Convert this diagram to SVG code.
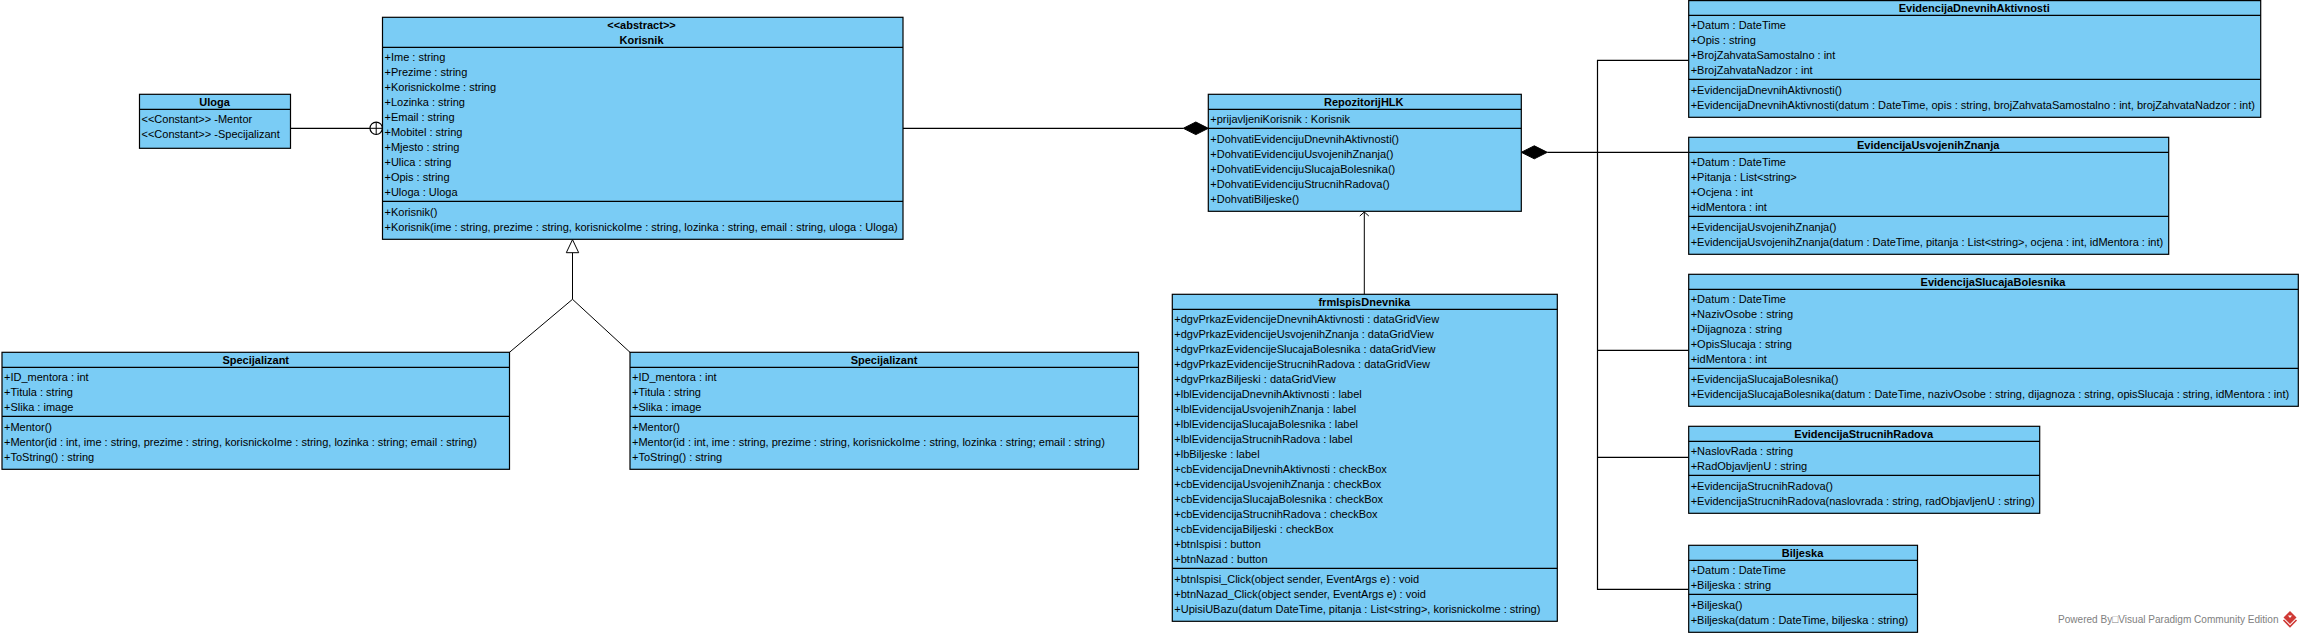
<svg xmlns="http://www.w3.org/2000/svg" width="2302" height="636" viewBox="0 0 2302 636">
<style>
.box{fill:#7accf5;stroke:#000;stroke-width:1.2}
.div{stroke:#000;stroke-width:1.2;fill:none}
.con{stroke:#000;stroke-width:1.2;fill:none}
.thin{stroke:#000;stroke-width:1;fill:none}
text{font-family:"Liberation Sans",Arial,sans-serif;font-size:11px;fill:#000}
.t{font-weight:bold;text-anchor:middle}
.wm{fill:#808080}
</style>
<rect width="2302" height="636" fill="#fff"/>
<g id="connectors">
<path class="con" d="M290.5 128.3H370"/>
<circle class="con" cx="376.2" cy="128.3" r="6.2"/>
<path class="thin" d="M370 128.3H382.5M376.2 122.1V134.5"/>
<path class="con" d="M903 128.3H1183.3"/>
<path d="M1183.3 128.3L1195.8 122L1208.3 128.3L1195.8 134.6Z" fill="#000" stroke="#000"/>
<path class="con" d="M1547.3 152.3H1688.5"/>
<path d="M1521.3 152.3L1534.3 145.8L1547.3 152.3L1534.3 158.8Z" fill="#000" stroke="#000"/>
<path class="con" d="M1688.5 60.3H1597.5V589.3H1688.5M1597.5 350.3H1688.5M1597.5 457.3H1688.5"/>
<path class="thin" d="M1364.3 294.3V212M1359.8 216L1364.3 212L1368.8 216"/>
<path class="thin" d="M572.5 252.7V299.3M509.5 352.3L572.5 299.3L630 352.3"/>
<path d="M572.5 239.6L566.3 252.7H578.7Z" fill="#fff" stroke="#000" stroke-width="1"/>
</g>
<g id="uloga">
<rect class="box" x="139.5" y="94.3" width="151" height="54"/>
<path class="div" d="M139.5 109.3H290.5"/>
<text class="t" x="214.5" y="106">Uloga</text>
<text x="141.5" y="123.3">&lt;&lt;Constant&gt;&gt; -Mentor</text>
<text x="141.5" y="138.3">&lt;&lt;Constant&gt;&gt; -Specijalizant</text>
</g>
<g id="korisnik">
<rect class="box" x="382.5" y="17.3" width="520.5" height="222"/>
<path class="div" d="M382.5 47.3H903M382.5 201.3H903"/>
<text class="t" x="641.5" y="29">&lt;&lt;abstract&gt;&gt;</text>
<text class="t" x="641.5" y="44">Korisnik</text>
<text x="384.5" y="61.3">+Ime : string</text>
<text x="384.5" y="76.3">+Prezime : string</text>
<text x="384.5" y="91.3">+KorisnickoIme : string</text>
<text x="384.5" y="106.3">+Lozinka : string</text>
<text x="384.5" y="121.3">+Email : string</text>
<text x="384.5" y="136.3">+Mobitel : string</text>
<text x="384.5" y="151.3">+Mjesto : string</text>
<text x="384.5" y="166.3">+Ulica : string</text>
<text x="384.5" y="181.3">+Opis : string</text>
<text x="384.5" y="196.3">+Uloga : Uloga</text>
<text x="384.5" y="215.7">+Korisnik()</text>
<text x="384.5" y="230.7">+Korisnik(ime : string, prezime : string, korisnickoIme : string, lozinka : string, email : string, uloga : Uloga)</text>
</g>
<g id="specijalizant1">
<rect class="box" x="2" y="352.3" width="507.5" height="117"/>
<path class="div" d="M2 367.3H509.5M2 416.3H509.5"/>
<text class="t" x="255.7" y="364">Specijalizant</text>
<text x="4" y="381.3">+ID_mentora : int</text>
<text x="4" y="396.3">+Titula : string</text>
<text x="4" y="411.3">+Slika : image</text>
<text x="4" y="430.7">+Mentor()</text>
<text x="4" y="445.7">+Mentor(id : int, ime : string, prezime : string, korisnickoIme : string, lozinka : string; email : string)</text>
<text x="4" y="460.7">+ToString() : string</text>
</g>
<g id="specijalizant2">
<rect class="box" x="630" y="352.3" width="508.5" height="117"/>
<path class="div" d="M630 367.3H1138.5M630 416.3H1138.5"/>
<text class="t" x="884" y="364">Specijalizant</text>
<text x="632" y="381.3">+ID_mentora : int</text>
<text x="632" y="396.3">+Titula : string</text>
<text x="632" y="411.3">+Slika : image</text>
<text x="632" y="430.7">+Mentor()</text>
<text x="632" y="445.7">+Mentor(id : int, ime : string, prezime : string, korisnickoIme : string, lozinka : string; email : string)</text>
<text x="632" y="460.7">+ToString() : string</text>
</g>
<g id="repozitorij">
<rect class="box" x="1208.3" y="94.3" width="313" height="117"/>
<path class="div" d="M1208.3 109.3H1521.3M1208.3 128.3H1521.3"/>
<text class="t" x="1363.8" y="106">RepozitorijHLK</text>
<text x="1210.3" y="123.3">+prijavljeniKorisnik : Korisnik</text>
<text x="1210.3" y="142.7">+DohvatiEvidencijuDnevnihAktivnosti()</text>
<text x="1210.3" y="157.7">+DohvatiEvidencijuUsvojenihZnanja()</text>
<text x="1210.3" y="172.7">+DohvatiEvidencijuSlucajaBolesnika()</text>
<text x="1210.3" y="187.7">+DohvatiEvidencijuStrucnihRadova()</text>
<text x="1210.3" y="202.7">+DohvatiBiljeske()</text>
</g>
<g id="frmIspisDnevnika">
<rect class="box" x="1172.3" y="294.3" width="385" height="327"/>
<path class="div" d="M1172.3 309.3H1557.3M1172.3 568.3H1557.3"/>
<text class="t" x="1364.3" y="306">frmIspisDnevnika</text>
<text x="1174.3" y="323.3">+dgvPrkazEvidencijeDnevnihAktivnosti : dataGridView</text>
<text x="1174.3" y="338.3">+dgvPrkazEvidencijeUsvojenihZnanja : dataGridView</text>
<text x="1174.3" y="353.3">+dgvPrkazEvidencijeSlucajaBolesnika : dataGridView</text>
<text x="1174.3" y="368.3">+dgvPrkazEvidencijeStrucnihRadova : dataGridView</text>
<text x="1174.3" y="383.3">+dgvPrkazBiljeski : dataGridView</text>
<text x="1174.3" y="398.3">+lblEvidencijaDnevnihAktivnosti : label</text>
<text x="1174.3" y="413.3">+lblEvidencijaUsvojenihZnanja : label</text>
<text x="1174.3" y="428.3">+lblEvidencijaSlucajaBolesnika : label</text>
<text x="1174.3" y="443.3">+lblEvidencijaStrucnihRadova : label</text>
<text x="1174.3" y="458.3">+lbBiljeske : label</text>
<text x="1174.3" y="473.3">+cbEvidencijaDnevnihAktivnosti : checkBox</text>
<text x="1174.3" y="488.3">+cbEvidencijaUsvojenihZnanja : checkBox</text>
<text x="1174.3" y="503.3">+cbEvidencijaSlucajaBolesnika : checkBox</text>
<text x="1174.3" y="518.3">+cbEvidencijaStrucnihRadova : checkBox</text>
<text x="1174.3" y="533.3">+cbEvidencijaBiljeski : checkBox</text>
<text x="1174.3" y="548.3">+btnIspisi : button</text>
<text x="1174.3" y="563.3">+btnNazad : button</text>
<text x="1174.3" y="582.7">+btnIspisi_Click(object sender, EventArgs e) : void</text>
<text x="1174.3" y="597.7">+btnNazad_Click(object sender, EventArgs e) : void</text>
<text x="1174.3" y="612.7">+UpisiUBazu(datum DateTime, pitanja : List&lt;string&gt;, korisnickoIme : string)</text>
</g>
<g id="evidencijaDnevnih">
<rect class="box" x="1688.7" y="0.6" width="572" height="116.7"/>
<path class="div" d="M1688.7 15.3H2260.7M1688.7 79.3H2260.7"/>
<text class="t" x="1974.2" y="12">EvidencijaDnevnihAktivnosti</text>
<text x="1690.7" y="29.3">+Datum : DateTime</text>
<text x="1690.7" y="44.3">+Opis : string</text>
<text x="1690.7" y="59.3">+BrojZahvataSamostalno : int</text>
<text x="1690.7" y="74.3">+BrojZahvataNadzor : int</text>
<text x="1690.7" y="93.7">+EvidencijaDnevnihAktivnosti()</text>
<text x="1690.7" y="108.7">+EvidencijaDnevnihAktivnosti(datum : DateTime, opis : string, brojZahvataSamostalno : int, brojZahvataNadzor : int)</text>
</g>
<g id="evidencijaUsvojenih">
<rect class="box" x="1688.7" y="137.3" width="480" height="117"/>
<path class="div" d="M1688.7 152.3H2168.7M1688.7 216.3H2168.7"/>
<text class="t" x="1928.2" y="149">EvidencijaUsvojenihZnanja</text>
<text x="1690.7" y="166.3">+Datum : DateTime</text>
<text x="1690.7" y="181.3">+Pitanja : List&lt;string&gt;</text>
<text x="1690.7" y="196.3">+Ocjena : int</text>
<text x="1690.7" y="211.3">+idMentora : int</text>
<text x="1690.7" y="230.7">+EvidencijaUsvojenihZnanja()</text>
<text x="1690.7" y="245.7">+EvidencijaUsvojenihZnanja(datum : DateTime, pitanja : List&lt;string&gt;, ocjena : int, idMentora : int)</text>
</g>
<g id="evidencijaSlucaja">
<rect class="box" x="1688.7" y="274.3" width="609.6" height="132"/>
<path class="div" d="M1688.7 289.3H2298.3M1688.7 368.3H2298.3"/>
<text class="t" x="1993" y="286">EvidencijaSlucajaBolesnika</text>
<text x="1690.7" y="303.3">+Datum : DateTime</text>
<text x="1690.7" y="318.3">+NazivOsobe : string</text>
<text x="1690.7" y="333.3">+Dijagnoza : string</text>
<text x="1690.7" y="348.3">+OpisSlucaja : string</text>
<text x="1690.7" y="363.3">+idMentora : int</text>
<text x="1690.7" y="382.7">+EvidencijaSlucajaBolesnika()</text>
<text x="1690.7" y="397.7">+EvidencijaSlucajaBolesnika(datum : DateTime, nazivOsobe : string, dijagnoza : string, opisSlucaja : string, idMentora : int)</text>
</g>
<g id="evidencijaStrucnih">
<rect class="box" x="1688.7" y="426.3" width="351" height="87"/>
<path class="div" d="M1688.7 441.3H2039.7M1688.7 475.3H2039.7"/>
<text class="t" x="1863.7" y="438">EvidencijaStrucnihRadova</text>
<text x="1690.7" y="455.3">+NaslovRada : string</text>
<text x="1690.7" y="470.3">+RadObjavljenU : string</text>
<text x="1690.7" y="489.7">+EvidencijaStrucnihRadova()</text>
<text x="1690.7" y="504.7">+EvidencijaStrucnihRadova(naslovrada : string, radObjavljenU : string)</text>
</g>
<g id="biljeska">
<rect class="box" x="1688.7" y="545.3" width="228.8" height="87"/>
<path class="div" d="M1688.7 560.3H1917.5M1688.7 594.3H1917.5"/>
<text class="t" x="1802.5" y="557">Biljeska</text>
<text x="1690.7" y="574.3">+Datum : DateTime</text>
<text x="1690.7" y="589.3">+Biljeska : string</text>
<text x="1690.7" y="608.7">+Biljeska()</text>
<text x="1690.7" y="623.7">+Biljeska(datum : DateTime, biljeska : string)</text>
</g>
<text class="wm" x="2058" y="623" textLength="220.5" lengthAdjust="spacingAndGlyphs">Powered By□Visual Paradigm Community Edition</text>
<path d="M2290 611L2296.5 617.5L2290 624L2283.5 617.5Z" fill="#cf3a36"/>
<path d="M2283.5 620L2290 626.5L2296.5 620" fill="none" stroke="#cf3a36" stroke-width="1.6"/>
<path d="M2288 615.5H2292L2290 618Z" fill="#fff"/>
</svg>
